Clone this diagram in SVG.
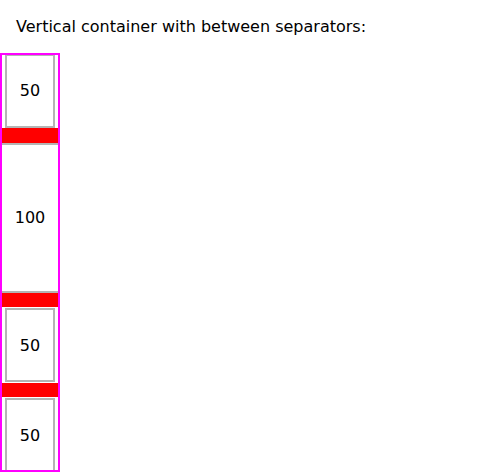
<svg xmlns="http://www.w3.org/2000/svg" width="480" height="473" viewBox="0 0 480 473">
<style>
text{font-family:"DejaVu Sans",sans-serif;font-size:16px;fill:#000}
.lbl{text-anchor:middle}
.box{fill:#fff;stroke:#b4b4b4;stroke-width:2}
.sep{fill:#ff0000}
.gl{fill:#b4b4b4}
</style>
<rect width="480" height="473" fill="#fff"/>
<text id="title" x="16" y="32">Vertical container with between separators:</text>
<g id="item1"><rect class="box" x="6" y="55" width="48" height="72"/><text class="lbl" x="30" y="96">50</text></g>
<g id="sep1"><rect class="sep" x="2" y="128" width="56" height="15"/><rect class="gl" x="2" y="143" width="56" height="2"/></g>
<g id="item2"><text class="lbl" x="30" y="223">100</text></g>
<g id="sep2"><rect class="gl" x="2" y="291" width="56" height="2"/><rect class="sep" x="2" y="293" width="56" height="14"/></g>
<g id="item3"><rect class="box" x="6" y="309" width="48" height="72"/><text class="lbl" x="30" y="351">50</text></g>
<g id="sep3"><rect class="sep" x="2" y="383" width="56" height="14"/></g>
<g id="item4"><rect class="box" x="6" y="399" width="48" height="72"/><text class="lbl" x="30" y="441">50</text></g>
<g id="container"><rect x="1" y="54" width="58" height="417" fill="none" stroke="#ff00ff" stroke-width="2"/></g>
</svg>
